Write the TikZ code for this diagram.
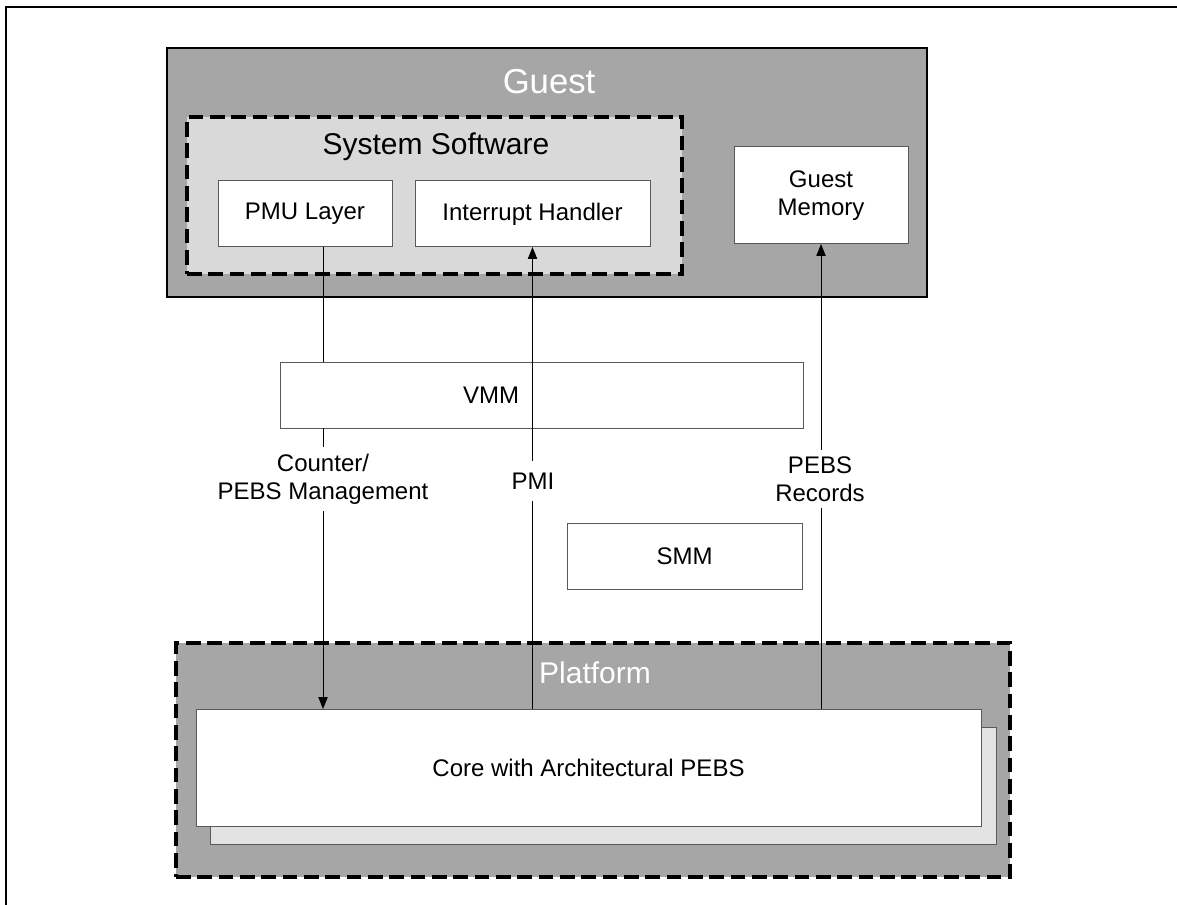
\documentclass[tikz,border=0pt]{standalone}
\usepackage{fontspec}
\setmainfont{Liberation Sans}
\usetikzlibrary{arrows.meta}
\definecolor{midgray}{HTML}{A6A6A6}
\definecolor{lightgray2}{HTML}{D9D9D9}
\definecolor{shadowgray}{HTML}{E3E3E3}
\definecolor{boxline}{HTML}{595959}
\begin{document}
\begin{tikzpicture}[x=0.75pt,y=-0.75pt,
  every node/.style={inner sep=0pt, outer sep=0pt},
  grouppanel/.style={draw=black, line width=1.5pt, fill=midgray},
  dashpanel/.style={draw=black, line width=2.4pt, dash pattern=on 11pt off 5pt},
  plainbox/.style={draw=boxline, line width=0.75pt, fill=white, font=\fontsize{18}{21}\selectfont, align=center},
  bigtitle/.style={text=white, font=\fontsize{26}{30}\selectfont},
  conn/.style={line width=0.75pt, draw=black},
  arr/.style={conn, -{Triangle[length=9pt,width=7pt]}},
  edgelabel/.style={fill=white, font=\fontsize{18}{21}\selectfont, align=center, inner xsep=2pt, inner ysep=5pt}
]
\useasboundingbox (0,0) rectangle (1177,905);
\draw[line width=1.5pt] (6,905) -- (6,7) -- (1177,7);

% Guest
\node[grouppanel, minimum width=570pt, minimum height=186.75pt] (guest) at (547,172.5) {};
\node[bigtitle] (guesttitle) at (549,82) {Guest};
\node[dashpanel, fill=lightgray2, minimum width=371.25pt, minimum height=117.75pt] (syssw) at (434.5,195.5) {};
\node[font=\fontsize{22.5}{27}\selectfont] (sysswtitle) at (436,147) {System Software};
\node[plainbox, minimum width=130.5pt, minimum height=49.5pt] (pmu) at (305,214) {PMU Layer};
\node[plainbox, minimum width=176.25pt, minimum height=49.5pt] (inth) at (532.5,214) {Interrupt Handler};
\node[plainbox, minimum width=130.5pt, minimum height=72.75pt] (gmem) at (821,195.5) {Guest\\Memory};

% Platform
\node[dashpanel, fill=midgray, minimum width=625.5pt, minimum height=175.5pt] (platform) at (593,760) {};
\node[bigtitle, font=\fontsize{22.5}{27}\selectfont] (plattitle) at (595,673) {Platform};
\node[plainbox, fill=shadowgray, minimum width=589.5pt, minimum height=87.75pt] (shadow) at (603,785.5) {};
\node[plainbox, minimum width=588.75pt, minimum height=87.75pt] (core) at (588.5,767.5) {Core with Architectural PEBS};

% SMM and VMM
\node[plainbox, minimum width=176.25pt, minimum height=49.5pt] (smm) at (684.5,556) {SMM};
\node[plainbox, minimum width=392.25pt, minimum height=49.5pt] (vmm) at (541.5,395) {};
\node[font=\fontsize{18}{21}\selectfont] (vmmtext) at (491,395) {VMM};

% Connectors
\coordinate (cx) at ([xshift=13.5pt]pmu.south);
\draw[conn] (cx) -- (cx |- vmm.north);
\draw[arr] (cx |- vmm.south) -- (cx |- core.north);
\draw[arr] (inth.south |- core.north) -- (inth.south);
\draw[arr] (gmem.south |- core.north) -- (gmem.south);

% Labels
\node[edgelabel] (lblcounter) at (323,479) {Counter/\\PEBS Management};
\node[edgelabel, inner ysep=9pt] (lblpmi) at (533,481) {PMI};
\node[edgelabel] (lblpebs) at (820,479) {PEBS\\Records};
\end{tikzpicture}
\end{document}
